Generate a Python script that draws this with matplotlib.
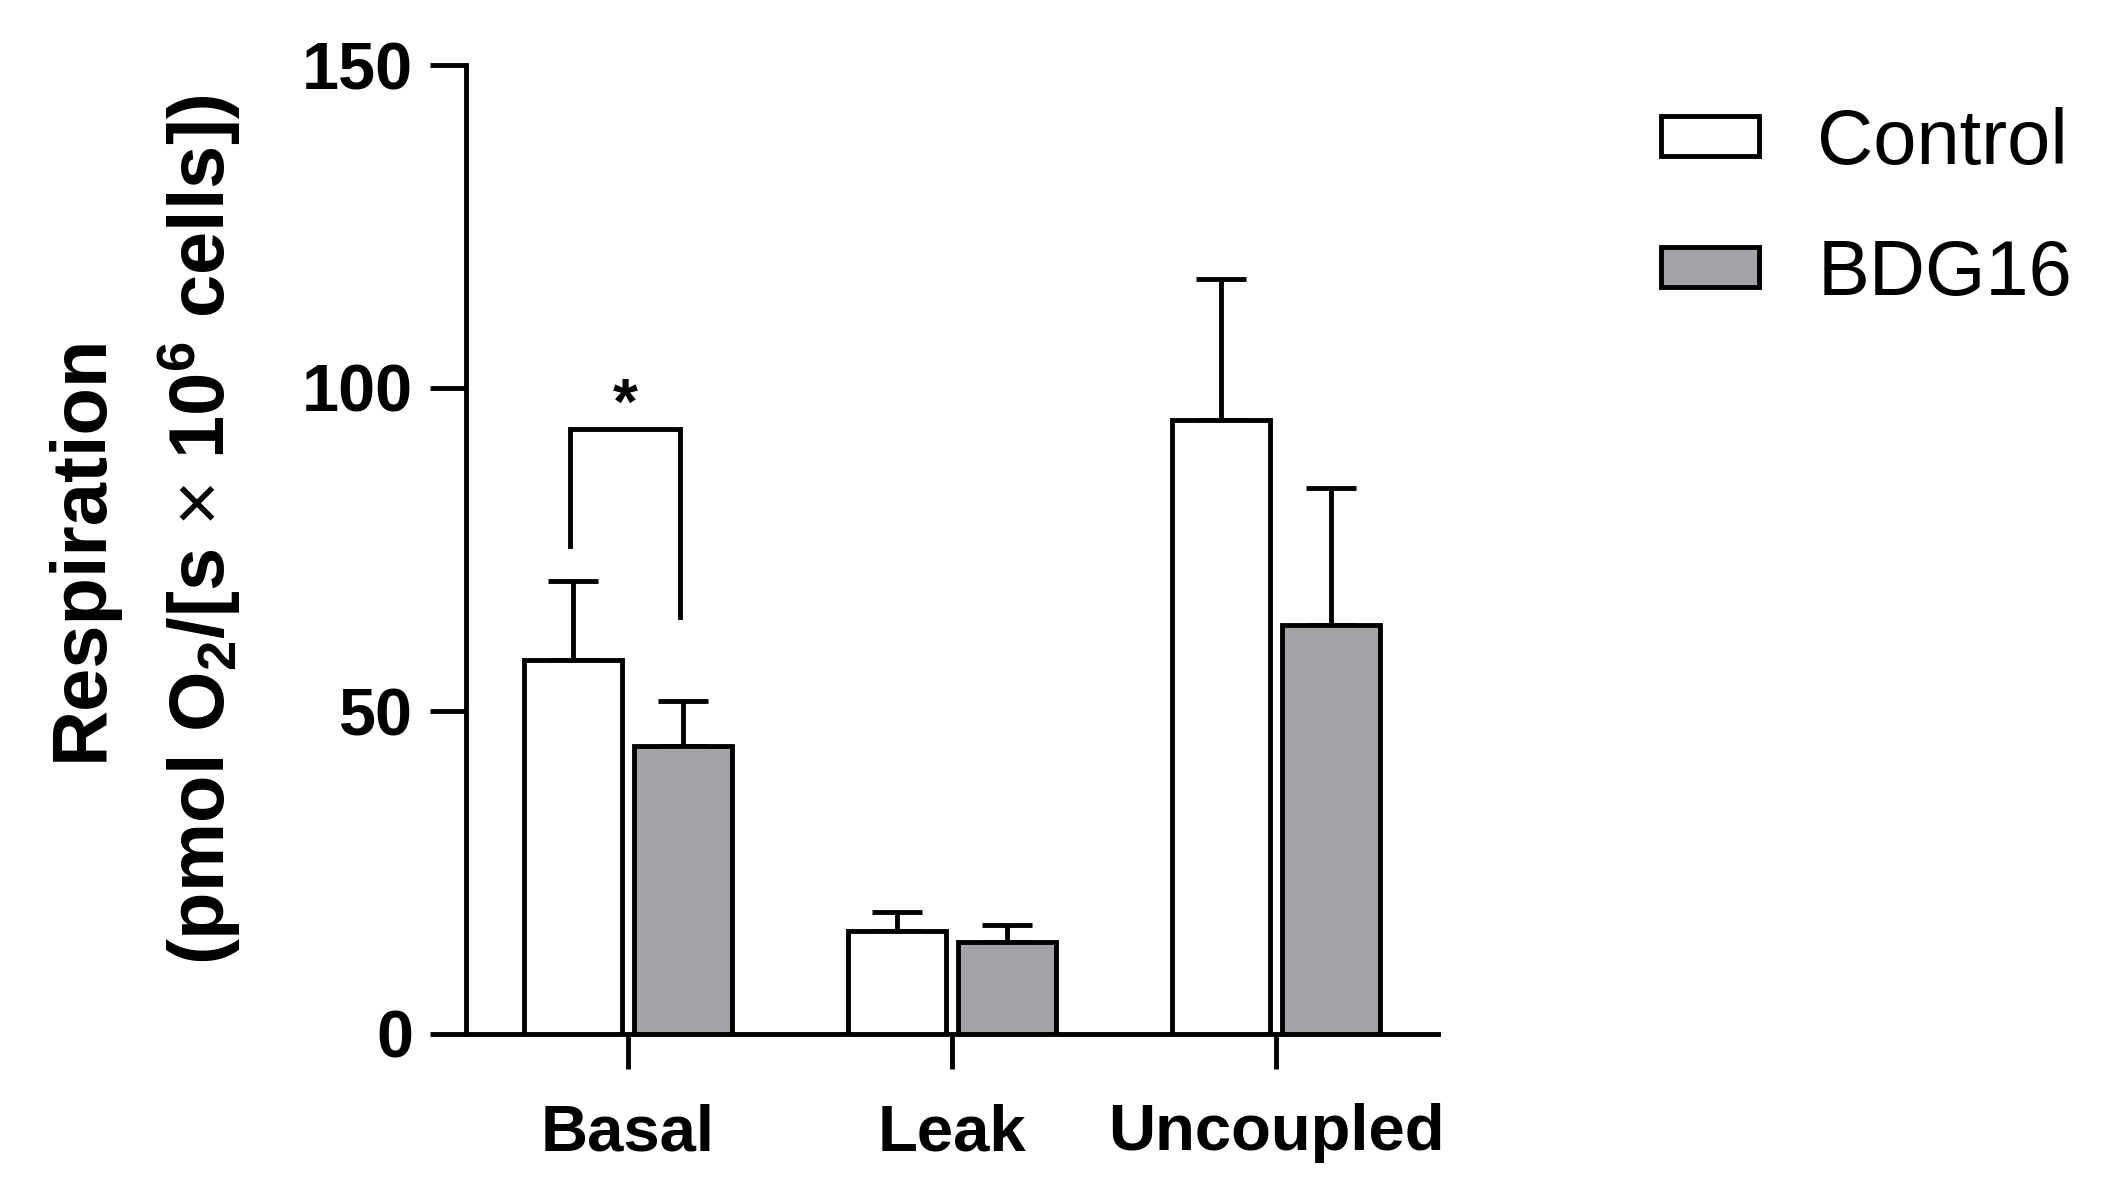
import matplotlib
matplotlib.use("Agg")
import matplotlib.pyplot as plt
import numpy as np
from matplotlib.patches import Patch

plt.rcParams['font.family'] = ['Liberation Sans', 'DejaVu Sans']
plt.rcParams['mathtext.fontset'] = 'custom'
plt.rcParams['mathtext.bf'] = 'Liberation Sans:bold'
plt.rcParams['mathtext.rm'] = 'Liberation Sans'
plt.rcParams['mathtext.default'] = 'bf'

categories = ["Basal", "Leak", "Uncoupled"]
series_names = ["Control", "BDG16"]
control_mean = [57.9, 15.9, 95.0]
control_err = [12.3, 3.0, 21.8]
bdg16_mean = [44.6, 14.2, 63.3]
bdg16_err = [6.9, 2.6, 21.2]
yticks = [0, 50, 100, 150]

# significance bracket (Basal)
sig_top = 93.7
sig_left_bottom = 75.6
sig_right_bottom = 64.5
sig_label = "*"

W, H = 2117, 1201
fig = plt.figure(figsize=(W / 100, H / 100), dpi=100)
ax = fig.add_axes([466 / W, 1 - 1034 / H, (1438 - 466) / W, (1034 - 65) / H])

x = np.arange(len(categories))
bw = 0.304
off = 0.169
lw = 3.5
gray = "#a3a3a7"

ax.bar(x - off, control_mean, bw, color="white", edgecolor="black", linewidth=lw, zorder=3)
ax.bar(x + off, bdg16_mean, bw, color=gray, edgecolor="black", linewidth=lw, zorder=3)
ax.errorbar(x - off, control_mean, yerr=[np.zeros(3), control_err], fmt="none",
            ecolor="black", elinewidth=lw, capsize=18, capthick=lw, zorder=2)
ax.errorbar(x + off, bdg16_mean, yerr=[np.zeros(3), bdg16_err], fmt="none",
            ecolor="black", elinewidth=lw, capsize=18, capthick=lw, zorder=2)

# bracket
xl, xr = x[0] - off - 0.01, x[0] + off - 0.01
ax.plot([xl, xl, xr, xr], [sig_left_bottom, sig_top, sig_top, sig_right_bottom],
        color="black", lw=lw, solid_joinstyle="miter", clip_on=False)
ax.text((xl + xr) / 2, sig_top + 0.8, sig_label, ha="center", va="baseline",
        fontsize=46, fontweight="bold")

ax.set_xlim(-0.5, 2.5)
ax.set_ylim(0, 150)
ax.set_yticks(yticks)
ax.set_xticks(x)
ax.set_xticklabels(categories)
for s in ["top", "right"]:
    ax.spines[s].set_visible(False)
for s in ["left", "bottom"]:
    ax.spines[s].set_linewidth(lw)
ax.tick_params(axis="y", length=26, width=lw, pad=12, labelsize=48)
ax.tick_params(axis="x", length=25, width=lw, pad=25, labelsize=47)
for t in ax.get_xticklabels() + ax.get_yticklabels():
    t.set_fontweight("bold")

fig.text(81 / W, 1 - 547 / H, "Respiration", rotation=90, ha="center", va="center",
         fontsize=56, fontweight="bold")
fig.text(200 / W, 1 - 530 / H, r"(pmol O$_{2}$/[s $\mathrm{\times}$ 10$^{6}$ cells])", rotation=90,
         ha="center", va="center", fontsize=56, fontweight="bold")

handles = [Patch(facecolor="white", edgecolor="black", linewidth=lw),
           Patch(facecolor=gray, edgecolor="black", linewidth=lw)]
fig.legend(handles, series_names, loc="upper left", bbox_to_anchor=(1661 / W, 1 - 107 / H),
           frameon=False, fontsize=56, handlelength=1.26, handleheight=0.42,
           handletextpad=0.75, labelspacing=0.74, borderpad=0, borderaxespad=0)

fig.savefig("out.png", dpi=100)
